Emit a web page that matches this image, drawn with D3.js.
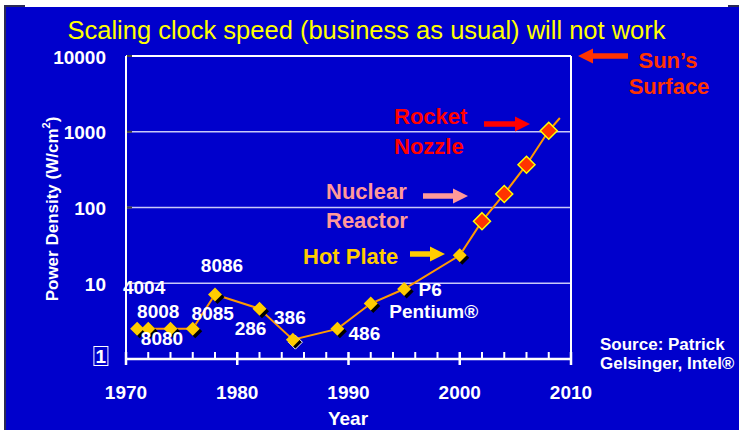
<!DOCTYPE html>
<html><head><meta charset="utf-8">
<script src="https://cdn.jsdelivr.net/npm/d3@7"></script>
<style>body{margin:0;background:#fff}svg{display:block}text{font-family:"Liberation Sans",Arial,sans-serif}</style>
</head><body>
<svg id="c" width="739" height="430"></svg>
<script>
// ---- data ----
const years  = [1971, 1972, 1974, 1976, 1978, 1982, 1985, 1989, 1992, 1995, 2000, 2002, 2004, 2006, 2008];
const values = [2.5, 2.5, 2.5, 2.5, 7.1, 4.6, 1.8, 2.5, 5.4, 8.4, 23.4, 66, 151, 367, 1030];
const chipNames = ["4004", "8008", "8080", "8085", "8086", "286", "386", "486", "Pentium®", "P6", null, null, null, null, null];
const extYears = [2009];
const extValues = [1520];
const xTicks = [1970, 1980, 1990, 2000, 2010];
const xMinor = [1972,1974,1976,1978,1982,1984,1986,1988,1992,1994,1996,1998,2002,2004,2006,2008];
const yTicks = [1, 10, 100, 1000, 10000];
const redFromYear = 2002;

// ---- layout (label offsets) ----
const labelOffsets = [[7,-41],[10,-17],[-8.5,10],[20,-15],[7,-29],[-9,20],[-3,-22],[27,5],[63,8],[26,1],null,null,null,null,null];

const svg = d3.select("#c");
// frame
svg.append("rect").attr("x",4).attr("y",5).attr("width",735).attr("height",425).attr("fill","#2a2a55");
svg.append("rect").attr("x",25).attr("y",0).attr("width",703).attr("height",7).attr("fill","#fff");
svg.append("rect").attr("x",6).attr("y",7).attr("width",733).attr("height",423).attr("fill","#0000cc");

const x = d3.scaleLinear().domain([1970, 2010]).range([126, 571]);
const y = d3.scaleLog().domain([1, 10000]).range([359, 56]);

// title
svg.append("text").attr("x",366.5).attr("y",30).attr("dominant-baseline","central").attr("text-anchor","middle")
  .attr("fill","#ffff00").attr("font-size",25.5).text("Scaling clock speed (business as usual) will not work");

// gridlines
const g = svg.append("g");
[10,100,1000].forEach(v=>{
  g.append("line").attr("x1",x(1970)).attr("x2",x(2010)).attr("y1",y(v)).attr("y2",y(v)).attr("stroke","#c8c8f8").attr("stroke-width",1.5);
});
// top and right borders
g.append("line").attr("x1",x(1970)).attr("x2",x(2010)).attr("y1",y(10000)).attr("y2",y(10000)).attr("stroke","#fff").attr("stroke-width",2);
g.append("line").attr("x1",x(2010)).attr("x2",x(2010)).attr("y1",y(10000)).attr("y2",y(1)).attr("stroke","#fff").attr("stroke-width",2);
// y axis
g.append("line").attr("x1",x(1970)).attr("x2",x(1970)).attr("y1",y(10000)).attr("y2",y(1)).attr("stroke","#fff").attr("stroke-width",2);
yTicks.forEach(v=>{
  g.append("line").attr("x1",x(1970)+1).attr("x2",x(1970)+6).attr("y1",y(v)).attr("y2",y(v)).attr("stroke","#444").attr("stroke-width",2);
});
// x axis
g.append("line").attr("x1",x(1970)).attr("x2",x(2010)).attr("y1",y(1)).attr("y2",y(1)).attr("stroke","#fff").attr("stroke-width",2.5);
xTicks.forEach(t=>{
  g.append("line").attr("x1",x(t)).attr("x2",x(t)).attr("y1",y(1)-7).attr("y2",y(1)+6).attr("stroke","#fff").attr("stroke-width",2.5);
  g.append("text").attr("x",x(t)).attr("y",392).attr("dominant-baseline","central").attr("text-anchor","middle")
    .attr("fill","#fff").attr("font-weight","bold").attr("font-size",19).text(t);
});
xMinor.forEach(t=>{
  g.append("line").attr("x1",x(t)).attr("x2",x(t)).attr("y1",y(1)-7).attr("y2",y(1)).attr("stroke","#fff").attr("stroke-width",2);
});
// y tick labels
yTicks.forEach(v=>{
  const t = g.append("text").attr("x",106).attr("y",v===1?y(v)-3:y(v)+1).attr("dominant-baseline","central").attr("text-anchor","end")
    .attr("fill","#fff").attr("font-weight","bold").attr("font-size",19).text(v);
  if(v===1){
    const b = t.node().getBBox();
    g.append("rect").attr("x",b.x-1.5).attr("y",b.y+1).attr("width",b.width+3).attr("height",b.height-2)
      .attr("fill","none").attr("stroke","#fff").attr("stroke-width",1);
  }
});
// axis titles
svg.append("text").attr("x",348).attr("y",418).attr("dominant-baseline","central").attr("text-anchor","middle")
  .attr("fill","#fff").attr("font-weight","bold").attr("font-size",19).text("Year");
const yt = svg.append("text").attr("transform","translate(52,209) rotate(-90)").attr("dominant-baseline","central").attr("text-anchor","middle")
  .attr("fill","#fff").attr("font-weight","bold").attr("font-size",17);
yt.append("tspan").text("Power Density (W/cm");
yt.append("tspan").attr("font-size",11).attr("dy",-6).text("2");
yt.append("tspan").attr("dy",6).text(")");

// line
const pts = years.map((yr,i)=>({yr, v:values[i], name:chipNames[i], off:labelOffsets[i]}));
const linePts = pts.concat(extYears.map((yr,i)=>({yr, v:extValues[i]})));
svg.append("path").datum(linePts).attr("d", d3.line().x(d=>x(d.yr)).y(d=>y(d.v)))
  .attr("fill","none").attr("stroke","#ff9900").attr("stroke-width",2);

// markers
const diamond = r => `M0,${-r}L${r},0L0,${r}L${-r},0Z`;
pts.forEach(d=>{
  const cx = x(d.yr), cy = y(d.v);
  if(d.yr >= redFromYear){
    svg.append("path").attr("d",diamond(8.5)).attr("transform",`translate(${cx},${cy})`)
      .attr("fill","#ff3300").attr("stroke","#ffff00").attr("stroke-width",1.5);
  } else {
    svg.append("path").attr("d",diamond(7)).attr("transform",`translate(${cx+2.5},${cy+2.5})`).attr("fill","#000")
      .attr("stroke", d.yr===1985 ? "#fff" : "none").attr("stroke-width",1);
    svg.append("path").attr("d",diamond(7)).attr("transform",`translate(${cx},${cy})`).attr("fill","#ffcc00");
  }
});
// chip labels
pts.forEach(d=>{
  if(!d.name) return;
  svg.append("text").attr("x",x(d.yr)+d.off[0]).attr("y",y(d.v)+d.off[1]).attr("dominant-baseline","central")
    .attr("text-anchor","middle").attr("fill","#fff").attr("font-weight","bold").attr("font-size",19).text(d.name);
});

// annotations
function arrow(x1, x2, yy, color){
  const dir = Math.sign(x2-x1), hl = 15, hh = 7.5, sh = 2.7;
  const xb = x2 - dir*hl;
  svg.append("path").attr("d",`M${x1},${yy-sh}L${xb},${yy-sh}L${xb},${yy-hh}L${x2},${yy}L${xb},${yy+hh}L${xb},${yy+sh}L${x1},${yy+sh}Z`).attr("fill",color);
}
function label(lines, xx, ys, color, size){
  lines.forEach((s,i)=>svg.append("text").attr("x",xx).attr("y",ys[i]).attr("dominant-baseline","central")
    .attr("fill",color).attr("font-weight","bold").attr("font-size",size).text(s));
}
label(["Rocket","Nozzle"], 394, [116.7,146], "#ff0000", 22);
arrow(484, 530, 124, "#ff0000");
label(["Nuclear","Reactor"], 326, [191.7,220.7], "#ff9999", 22);
arrow(423, 468, 196, "#ff9999");
label(["Hot Plate"], 303, [256], "#ffcc00", 22);
arrow(410, 445, 254, "#ffcc00");
svg.append("text").attr("x",668).attr("y",60).attr("dominant-baseline","central").attr("text-anchor","middle")
  .attr("fill","#ff3300").attr("font-weight","bold").attr("font-size",22).text("Sun’s");
svg.append("text").attr("x",669).attr("y",86).attr("dominant-baseline","central").attr("text-anchor","middle")
  .attr("fill","#ff3300").attr("font-weight","bold").attr("font-size",22).text("Surface");
arrow(628, 578, 56, "#ff3300");
label(["Source: Patrick","Gelsinger, Intel®"], 600, [344,363], "#fff", 17);
</script>
</body></html>
